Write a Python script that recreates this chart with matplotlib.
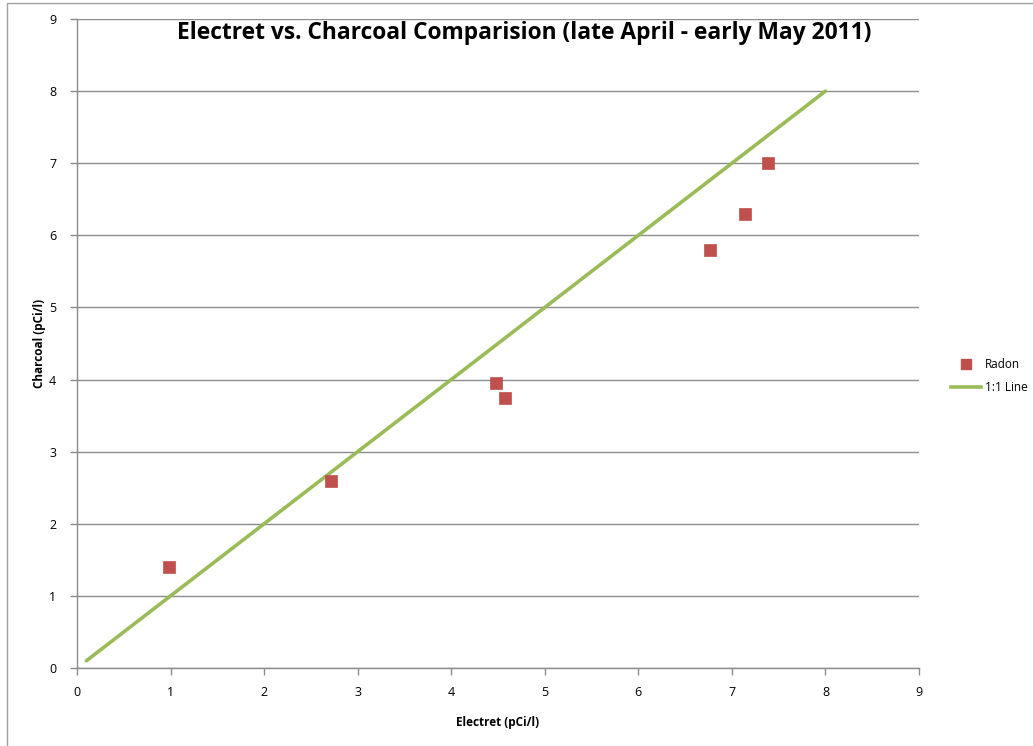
import matplotlib
matplotlib.use("Agg")
import matplotlib.pyplot as plt
from matplotlib.lines import Line2D
from matplotlib.patches import Rectangle

electret = [0.98, 2.72, 4.48, 4.58, 6.77, 7.14, 7.39]
charcoal = [1.40, 2.60, 3.95, 3.75, 5.80, 6.30, 7.00]
line_x = [0.1, 8.0]
line_y = [0.1, 8.0]
ticks = list(range(0, 10))

plt.rcParams['font.family'] = ['Open Sans', 'DejaVu Sans']

W, H = 1033, 746
fig = plt.figure(figsize=(W / 100, H / 100), dpi=100)
ax = fig.add_axes([77 / W, (H - 668) / H, (919 - 77) / W, (668 - 19) / H])

gray = '#8c8c8c'
ax.set_xlim(0, 9)
ax.set_ylim(0, 9)
ax.set_xticks(ticks)
ax.set_yticks(ticks)
ax.yaxis.grid(True, color=gray, linewidth=1.0)
ax.set_axisbelow(True)
for s in ['top', 'right']:
    ax.spines[s].set_visible(False)
for s in ['left', 'bottom']:
    ax.spines[s].set_color(gray)
    ax.spines[s].set_linewidth(1.0)
ax.tick_params(axis='both', direction='out', length=5, color=gray, labelsize=9, width=1.0)
ax.tick_params(axis='x', pad=8)
ax.tick_params(axis='y', pad=10)

ax.plot(line_x, line_y, color='#9bbb59', linewidth=2.6, solid_capstyle='round', label='1:1 Line', zorder=2)
ax.scatter(electret, charcoal, marker='s', s=72, color='#c0504d', edgecolors='#c0504d', linewidths=0.5, label='Radon', zorder=3)

ax.set_xlabel('Electret (pCi/l)', fontsize=8.5, fontweight='bold', labelpad=12)
ax.set_ylabel('Charcoal (pCi/l)', fontsize=8.5, fontweight='bold', labelpad=2)

fig.text(524 / W, 1 - 33 / H, 'Electret vs. Charcoal Comparision (late April - early May 2011)',
         ha='center', va='center', fontsize=16.4, fontweight='bold')

handles = [Line2D([], [], marker='s', linestyle='none', color='#c0504d', markersize=7.5),
           Line2D([], [], color='#9bbb59', linewidth=2.6)]
fig.legend(handles, ['Radon', '1:1 Line'], loc='center left', bbox_to_anchor=(940 / W, 1 - 376 / H),
           frameon=False, fontsize=8.5, handlelength=2.6, handletextpad=0.3, labelspacing=0.9)

fig.patches.append(Rectangle((7 / W, -0.05), 1.1, 1.05 - 3 / H, transform=fig.transFigure,
                             fill=False, edgecolor='#a0a0a0', linewidth=1.0))

fig.savefig('out.png', dpi=100)
